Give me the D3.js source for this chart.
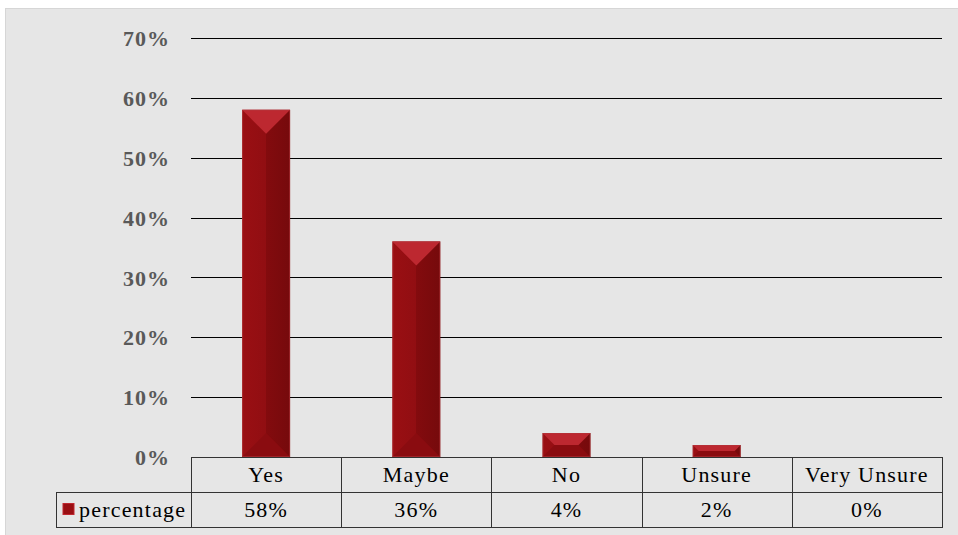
<!DOCTYPE html>
<html>
<head>
<meta charset="utf-8">
<script src="https://cdn.jsdelivr.net/npm/d3@7"></script>
<style>
  body { margin: 0; background: #fff; }
  svg { display: block; }
</style>
</head>
<body>
<div id="chart"></div>
<script>
// Data
const categories = ["Yes", "Maybe", "No", "Unsure", "Very Unsure"];
const values = [0.58, 0.36, 0.04, 0.02, 0];
const valueLabels = ["58%", "36%", "4%", "2%", "0%"];
const seriesName = "percentage";
const yTicks = [0, 0.1, 0.2, 0.3, 0.4, 0.5, 0.6, 0.7];

const width = 958, height = 535;
const plot = { left: 191, right: 942, top: 38, bottom: 457 };
const rowH = 35;
const legendLeft = 56;
const serif = "'Liberation Serif', 'Times New Roman', serif";

const svg = d3.select("#chart").append("svg")
  .attr("width", width)
  .attr("height", height);

// background panel
svg.append("rect")
  .attr("x", 5.5).attr("y", 8.5)
  .attr("width", width).attr("height", height)
  .attr("fill", "#e6e6e6")
  .attr("stroke", "#d6d6d6");

const x = d3.scaleBand().domain(categories).range([plot.left, plot.right]).padding(0);
const y = d3.scaleLinear().domain([0, 0.7]).range([plot.bottom, plot.top]);

// gridlines + y labels
const yAxis = d3.axisLeft(y)
  .tickValues(yTicks)
  .tickFormat(d3.format(".0%"))
  .tickSize(-(plot.right - plot.left))
  .tickPadding(21);

const gy = svg.append("g")
  .attr("transform", `translate(${plot.left},0)`)
  .call(yAxis);
gy.select(".domain").remove();
gy.selectAll(".tick line").attr("stroke", "#000").attr("stroke-width", 1).attr("shape-rendering", "crispEdges");
gy.selectAll(".tick text")
  .attr("fill", "#595959")
  .style("font-family", serif)
  .style("font-weight", "bold")
  .style("font-size", "22px")
  .style("letter-spacing", "1px")
  .attr("dy", "0.35em");

// gradients
const defs = svg.append("defs");
const front = defs.append("linearGradient").attr("id", "front").attr("x1", 0).attr("x2", 1).attr("y1", 0).attr("y2", 0);
front.append("stop").attr("offset", "0%").attr("stop-color", "#9a0f13");
front.append("stop").attr("offset", "50%").attr("stop-color", "#910e12");
front.append("stop").attr("offset", "50%").attr("stop-color", "#830b0e");
front.append("stop").attr("offset", "100%").attr("stop-color", "#760a0c");

// bars with bevel
const barW = 48;
const bars = svg.append("g").selectAll("g")
  .data(categories.map((c, i) => ({ c, v: values[i] })).filter(d => d.v > 0))
  .join("g");

bars.each(function (d) {
  const g = d3.select(this);
  const x0 = x(d.c) + x.bandwidth() / 2 - barW / 2;
  const x1 = x0 + barW;
  const y0 = y(d.v), y1 = y(0);
  const b = Math.min(barW / 2, (y1 - y0) / 2);
  // base face
  g.append("rect")
    .attr("x", x0).attr("y", y0)
    .attr("width", barW).attr("height", y1 - y0)
    .attr("fill", "url(#front)");
  // top bevel
  g.append("polygon")
    .attr("points", [[x0, y0], [x1, y0], [x1 - b, y0 + b], [x0 + b, y0 + b]].join(" "))
    .attr("fill", "#bd2830");
  // bottom bevel
  g.append("polygon")
    .attr("points", [[x0, y1], [x1, y1], [x1 - b, y1 - b], [x0 + b, y1 - b]].join(" "))
    .attr("fill", "#8a0c10");
  // outline
  g.append("rect")
    .attr("x", x0 + 0.5).attr("y", y0 + 0.5)
    .attr("width", barW - 1).attr("height", y1 - y0 - 1)
    .attr("fill", "none")
    .attr("stroke", "#b3363a")
    .attr("stroke-opacity", 0.6);
});

// data table
const table = svg.append("g")
  .style("font-family", serif)
  .style("font-size", "22px")
  .style("letter-spacing", "1.2px")
  .attr("fill", "#000");

const tableStroke = "#333";
// header row border
table.append("rect")
  .attr("x", plot.left + 0.5).attr("y", plot.bottom + 0.5)
  .attr("width", plot.right - plot.left).attr("height", rowH)
  .attr("fill", "none").attr("stroke", tableStroke);
// data row border
table.append("rect")
  .attr("x", legendLeft + 0.5).attr("y", plot.bottom + rowH + 0.5)
  .attr("width", plot.right - legendLeft).attr("height", rowH)
  .attr("fill", "none").attr("stroke", tableStroke);
// column separators
table.selectAll("line.sep")
  .data(categories.slice(1))
  .join("line")
  .attr("x1", d => Math.round(x(d)) + 0.5).attr("x2", d => Math.round(x(d)) + 0.5)
  .attr("y1", plot.bottom).attr("y2", plot.bottom + 2 * rowH)
  .attr("stroke", tableStroke);
table.append("line")
  .attr("x1", plot.left + 0.5).attr("x2", plot.left + 0.5)
  .attr("y1", plot.bottom).attr("y2", plot.bottom + 2 * rowH)
  .attr("stroke", tableStroke);

table.selectAll("text.cat")
  .data(categories)
  .join("text")
  .attr("x", d => x(d) + x.bandwidth() / 2)
  .attr("y", plot.bottom + rowH / 2)
  .attr("dy", "0.35em")
  .attr("text-anchor", "middle")
  .text(d => d);

table.selectAll("text.val")
  .data(valueLabels)
  .join("text")
  .attr("x", (d, i) => x(categories[i]) + x.bandwidth() / 2)
  .attr("y", plot.bottom + rowH * 1.5)
  .attr("dy", "0.35em")
  .attr("text-anchor", "middle")
  .text(d => d);

// legend key
table.append("rect")
  .attr("x", 63).attr("y", plot.bottom + rowH * 1.5 - 6)
  .attr("width", 11).attr("height", 11)
  .attr("fill", "#9a0f13")
  .attr("stroke", "#c0262f");
table.append("text")
  .attr("x", 79)
  .attr("y", plot.bottom + rowH * 1.5)
  .attr("dy", "0.35em")
  .text(seriesName);
</script>
</body>
</html>
